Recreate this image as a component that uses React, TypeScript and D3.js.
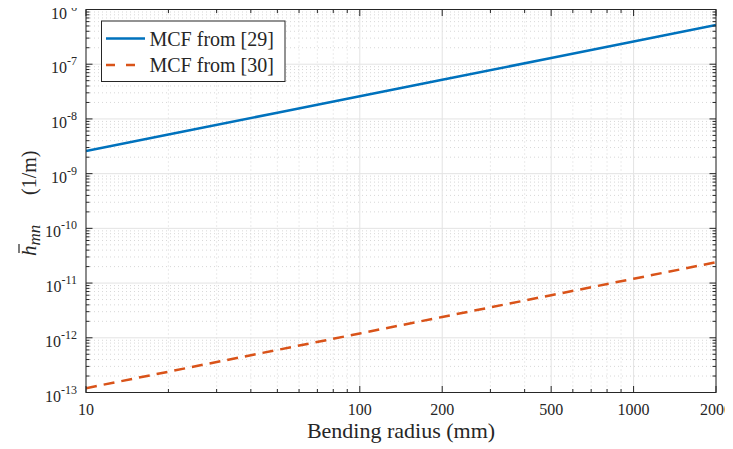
import React from "react";
import * as d3 from "d3";

const radii = [10, 20, 50, 100, 200, 500, 1000, 2000];
const mcf29 = [2.6e-9, 5.2e-9, 1.3e-8, 2.6e-8, 5.2e-8, 1.3e-7, 2.6e-7, 5.2e-7];
const mcf30 = [1.2e-13, 2.4e-13, 6.0e-13, 1.2e-12, 2.4e-12, 6.0e-12, 1.2e-11, 2.4e-11];
const seriesNames = ["MCF from [29]", "MCF from [30]"];
const xTicks = [10, 100, 200, 500, 1000, 2000];
const yExps = [-13, -12, -11, -10, -9, -8, -7, -6];

const W = 733, H = 449;
const L = 86, R = 716, T = 9.5, B = 392.5;
const AX = "#262626";
const ts = { fontFamily: '"Liberation Serif"' };

export default function App() {
  const x = d3.scaleLog().domain([10, 2000]).range([L, R]);
  const y = d3.scaleLog().domain([1e-13, 1e-6]).range([B, T]);

  const xMinor: number[] = [];
  for (let d = 10; d < 2000; d *= 10) {
    for (let k = 2; k <= 9; k++) {
      const v = d * k;
      if (v <= 2000 && !xTicks.includes(v)) xMinor.push(v);
    }
  }
  const yMinor: number[] = [];
  for (let e = -13; e < -6; e++) {
    for (let k = 2; k <= 9; k++) yMinor.push(k * Math.pow(10, e));
  }

  const line = d3
    .line<number>()
    .x((_, i) => x(radii[i]))
    .y((v) => y(v));

  const majLen = 6.5, minLen = 3.5;

  return (
    <svg width={W} height={H}>
      <g transform="translate(-8,-8)">
        <defs>
          <clipPath id="plotclip">
            <rect x={L} y={T} width={R - L} height={B - T} />
          </clipPath>
        </defs>
        <g stroke="#cfcfcf" strokeWidth={1} strokeDasharray="1 3" opacity={0.8}>
          {xMinor.map((v) => (
            <line key={"xm" + v} x1={x(v)} x2={x(v)} y1={T} y2={B} />
          ))}
          {yMinor.map((v, i) => (
            <line key={"ym" + i} x1={L} x2={R} y1={y(v)} y2={y(v)} />
          ))}
        </g>
        <g stroke="#e3e3e3" strokeWidth={1}>
          {xTicks.map((v) => (
            <line key={"xg" + v} x1={x(v)} x2={x(v)} y1={T} y2={B} />
          ))}
          {yExps.map((e) => (
            <line key={"yg" + e} x1={L} x2={R} y1={y(Math.pow(10, e))} y2={y(Math.pow(10, e))} />
          ))}
        </g>
        <g clipPath="url(#plotclip)" fill="none">
          <path d={line(mcf29) || ""} stroke="#0072BD" strokeWidth={2.5} />
          <path d={line(mcf30) || ""} stroke="#D95319" strokeWidth={2.5} strokeDasharray="11 7" />
        </g>
        <g stroke={AX} strokeWidth={1}>
          <rect x={L} y={T} width={R - L} height={B - T} fill="none" />
          {xTicks.map((v) => (
            <g key={"xt" + v}>
              <line x1={x(v)} x2={x(v)} y1={B} y2={B - majLen} />
              <line x1={x(v)} x2={x(v)} y1={T} y2={T + majLen} />
            </g>
          ))}
          {xMinor.map((v) => (
            <g key={"xmt" + v}>
              <line x1={x(v)} x2={x(v)} y1={B} y2={B - minLen} />
              <line x1={x(v)} x2={x(v)} y1={T} y2={T + minLen} />
            </g>
          ))}
          {yExps.map((e) => (
            <g key={"yt" + e}>
              <line x1={L} x2={L + majLen} y1={y(Math.pow(10, e))} y2={y(Math.pow(10, e))} />
              <line x1={R} x2={R - majLen} y1={y(Math.pow(10, e))} y2={y(Math.pow(10, e))} />
            </g>
          ))}
          {yMinor.map((v, i) => (
            <g key={"ymt" + i}>
              <line x1={L} x2={L + minLen} y1={y(v)} y2={y(v)} />
              <line x1={R} x2={R - minLen} y1={y(v)} y2={y(v)} />
            </g>
          ))}
        </g>
        {xTicks.map((v) => (
          <text key={"xl" + v} x={x(v)} y={415} fontSize={16} textAnchor="middle" fill={AX} style={ts}>
            {String(v)}
          </text>
        ))}
        {yExps.map((e) => (
          <text key={"yl" + e} x={77} y={y(Math.pow(10, e)) + 9} fontSize={16} textAnchor="end" fill={AX} style={ts}>
            10
            <tspan fontSize={12} dy={-8} style={ts}>
              {"-" + String(-e)}
            </tspan>
          </text>
        ))}
        <text x={(L + R) / 2} y={438} textAnchor="middle" fontSize={22} fill={AX} style={ts}>
          Bending radius (mm)
        </text>
        <g transform={`translate(36, 201) rotate(-90)`}>
          <text x={-55} y={0} fontSize={21} fill={AX} style={ts}>
            <tspan fontStyle="italic" style={ts}>h</tspan>
            <tspan fontStyle="italic" fontSize={17} dy={4} style={ts}>mn</tspan>
          </text>
          <text x={6} y={0} fontSize={20} fill={AX} style={ts}>
            (1/m)
          </text>
          <line x1={-52} x2={-43} y1={-17} y2={-17} stroke={AX} strokeWidth={1.2} />
        </g>
        <rect x={101.5} y={21} width={183.5} height={60.5} fill="#fff" stroke={AX} strokeWidth={1} />
        <line x1={106} x2={145} y1={38.5} y2={38.5} stroke="#0072BD" strokeWidth={2.5} />
        <line x1={106} x2={145} y1={65} y2={65} stroke="#D95319" strokeWidth={2.5} strokeDasharray="9 11" />
        <text x={149.5} y={45.5} fontSize={20} fill={AX} style={ts}>
          {seriesNames[0]}
        </text>
        <text x={149.5} y={72} fontSize={20} fill={AX} style={ts}>
          {seriesNames[1]}
        </text>
      </g>
    </svg>
  );
}
